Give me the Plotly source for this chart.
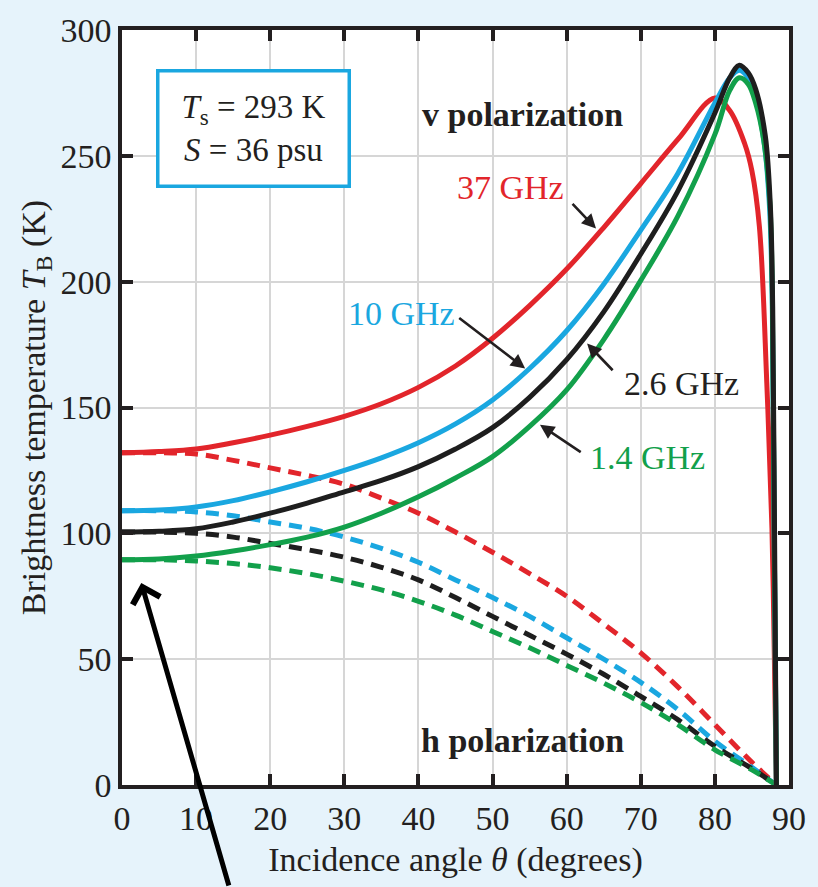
import plotly.graph_objects as go

# ---------------- data ----------------
# v polarization (solid)
theta_v_37 = [0, 5, 10, 15, 20, 25, 30, 35, 40, 45, 50, 55, 60, 65, 70, 75, 80,
              82, 84, 85, 86, 87, 87.7, 88, 88.3]
tb_v_37 = [132, 132.5, 133.5, 136, 139, 142.5, 146.5, 151.5, 158, 166.5, 177.5, 190.5, 205, 221.5, 239, 256.5, 273,
           268, 255, 244, 222, 160, 102, 55, 0]

theta_v_10 = [0, 5, 10, 15, 20, 25, 30, 35, 40, 45, 50, 55, 60, 65, 70, 75, 80,
              82, 83.3, 84.5, 85.5, 86.7, 87.4, 87.75, 88.0, 88.3]
tb_v_10 = [109, 109.3, 110.5, 113, 116.5, 120.5, 125, 130, 136, 143.5, 153, 165.5, 180.5, 199, 220.5, 243, 271,
           281, 284, 281, 273, 254, 228, 190, 100, 0]

theta_v_26 = [0, 5, 10, 15, 20, 25, 30, 35, 40, 45, 50, 55, 60, 65, 70, 75, 80,
              82, 83.3, 84.5, 85.5, 86.8, 87.5, 87.8, 88.05, 88.3]
tb_v_26 = [100.5, 100.8, 101.8, 104.5, 108, 112, 116.5, 121, 126.5, 133.5, 142, 154, 169, 188, 211, 236, 267,
           281, 286, 283, 276.5, 258, 229, 190, 100, 0]

theta_v_14 = [0, 5, 10, 15, 20, 25, 30, 35, 40, 45, 50, 55, 60, 65, 70, 75, 80,
              82, 83.3, 84.5, 85.5, 86.6, 87.4, 87.75, 88.0, 88.3]
tb_v_14 = [89.5, 89.8, 91, 93, 95.5, 98.5, 102.5, 108, 114.5, 122, 130.5, 142.5, 157, 177, 200.5, 226, 258.5,
           276, 281, 278.5, 271, 256, 232, 195, 100, 0]

# h polarization (dashed)
theta_h = [0, 5, 10, 15, 20, 25, 30, 35, 40, 45, 50, 55, 60, 65, 70, 75, 80, 85, 88.3]
tb_h_37 = [132, 132, 131.5, 129, 126, 123, 119.5, 114, 108, 100.5, 92.5, 84, 75, 64, 52.5, 39, 24, 9, 0]
tb_h_10 = [109, 109, 108.5, 107, 104.5, 102, 98.5, 94, 88.5, 81.5, 74.5, 67, 58.5, 50, 40.8, 30, 17.4, 7, 0]
tb_h_26 = [100.5, 100.5, 100, 98.5, 96, 93.5, 90.5, 86.5, 81.5, 74.5, 67, 59.5, 52, 44, 35.2, 26, 15.4, 6.5, 0]
tb_h_14 = [89.5, 89.5, 89, 88, 86.3, 84, 81, 77.5, 73, 67.5, 61, 54.5, 47.5, 40.5, 32.8, 24, 14, 6, 0]

freq_labels = ["37 GHz", "10 GHz", "2.6 GHz", "1.4 GHz"]
colors = ["#E2252B", "#1AA7E0", "#1E1E1E", "#12A04B"]

x_ticks = [0, 10, 20, 30, 40, 50, 60, 70, 80, 90]
y_ticks = [0, 50, 100, 150, 200, 250, 300]

FONT = "Liberation Serif, Times New Roman, serif"
INK = "#231F20"

fig = go.Figure()

h_series = [tb_h_37, tb_h_10, tb_h_26, tb_h_14]
for tb, c, name in zip(h_series, colors, freq_labels):
    fig.add_trace(go.Scatter(x=theta_h, y=tb, mode="lines", name=name + " h",
                             line=dict(color=c, width=5, dash="13px,8px", shape="spline", smoothing=1.0),
                             showlegend=False))

v_series = [(theta_v_37, tb_v_37), (theta_v_10, tb_v_10), (theta_v_14, tb_v_14), (theta_v_26, tb_v_26)]
v_colors = [colors[0], colors[1], colors[3], colors[2]]
v_names = [freq_labels[0], freq_labels[1], freq_labels[3], freq_labels[2]]
for (th, tb), c, name in zip(v_series, v_colors, v_names):
    fig.add_trace(go.Scatter(x=th, y=tb, mode="lines", name=name + " v",
                             line=dict(color=c, width=5, shape="spline", smoothing=1.0),
                             showlegend=False))

annotations = [
    # parameter box
    dict(x=17.7, y=261, xref="x", yref="y", showarrow=False,
         text="<i>T</i><sub>s</sub> = 293 K<br><i>S</i> = 36 psu",
         font=dict(family=FONT, size=33, color=INK), align="center",
         bordercolor="#1AA7E0", borderwidth=3.5, bgcolor="white",
         width=188, height=112, borderpad=0),
    dict(x=54, y=266.3, xref="x", yref="y", showarrow=False,
         text="<b>v polarization</b>", font=dict(family=FONT, size=34, color=INK)),
    dict(x=54, y=17.8, xref="x", yref="y", showarrow=False,
         text="<b>h polarization</b>", font=dict(family=FONT, size=34, color=INK)),
    # frequency labels
    dict(x=52.4, y=237.4, xref="x", yref="y", showarrow=False,
         text=freq_labels[0], font=dict(family=FONT, size=34, color=colors[0])),
    dict(x=37.7, y=187.2, xref="x", yref="y", showarrow=False,
         text=freq_labels[1], font=dict(family=FONT, size=34, color=colors[1])),
    dict(x=75.5, y=159.5, xref="x", yref="y", showarrow=False,
         text=freq_labels[2], font=dict(family=FONT, size=34, color=INK)),
    dict(x=70.9, y=130.2, xref="x", yref="y", showarrow=False,
         text=freq_labels[3], font=dict(family=FONT, size=34, color=colors[3])),
]

# label arrows (tip, tail) in data units
label_arrows = [((63.96, 221.1), (60.6, 231.5)),
                ((54.4, 165.5), (45.3, 186.0)),
                ((62.76, 175.4), (66.4, 164.2)),
                ((56.4, 143.1), (62.1, 131.9))]
for (tx, ty), (sx, sy) in label_arrows:
    annotations.append(dict(x=tx, y=ty, xref="x", yref="y", ax=sx, ay=sy,
                            axref="x", ayref="y", text="", showarrow=True,
                            arrowhead=2, arrowsize=1.1, arrowwidth=2.6, arrowcolor=INK))

# big pointer arrow from below
annotations.append(dict(x=2.6, y=80.3, xref="x", yref="y", ax=88, ay=310,
                        text="", showarrow=True, arrowhead=4, arrowsize=1.1,
                        arrowwidth=5, arrowcolor="black"))

axis_common = dict(showline=True, linecolor=INK, linewidth=3.5, mirror="ticks",
                   ticks="inside", ticklen=11, tickwidth=3.5, tickcolor=INK,
                   showgrid=True, gridcolor="#D6D6D6", gridwidth=1.5, zeroline=False,
                   tickfont=dict(family=FONT, size=34, color=INK))

fig.update_layout(
    width=818, height=887, autosize=False,
    margin=dict(l=122, r=21, t=27, b=102),
    paper_bgcolor="#E6F3FB", plot_bgcolor="white",
    showlegend=False,
    annotations=annotations,
    xaxis=dict(range=[0, 90], tickvals=x_ticks, ticktext=[str(v) for v in x_ticks],
               title=dict(text="Incidence angle <i>θ</i> (degrees)", standoff=13,
                          font=dict(family=FONT, size=34, color=INK)),
               **axis_common),
    yaxis=dict(range=[0, 300], tickvals=y_ticks, ticktext=[str(v) for v in y_ticks],
               title=dict(text="Brightness temperature <i>T</i><sub>B</sub> (K)", standoff=6,
                          font=dict(family=FONT, size=34, color=INK)),
               **axis_common),
)

fig.write_html("out.html")
